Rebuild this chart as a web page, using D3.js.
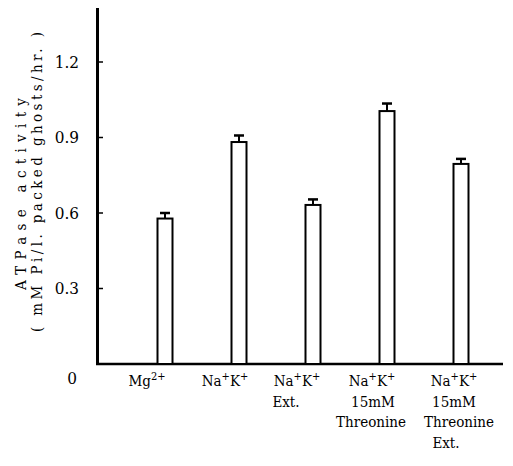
<!DOCTYPE html>
<html>
<head>
<meta charset="utf-8">
<script src="https://cdn.jsdelivr.net/npm/d3@7"></script>
<style>
  body { margin: 0; background: #fff; }
  svg { font-stretch: condensed; }
</style>
</head>
<body>
<svg width="513" height="466" font-family="'DejaVu Serif', serif"></svg>
<script>
"use strict";

// data
var categories = ["Mg", "NaK", "NaK Ext", "NaK Thr", "NaK Thr Ext"];
var values = [0.578, 0.882, 0.632, 1.005, 0.795];
var errors = [0.022, 0.026, 0.022, 0.030, 0.020];
var yTicks = [0.3, 0.6, 0.9, 1.2];
var tickLabels = ["0.3", "0.6", "0.9", "1.2"];

// x labels, one list of lines per category; each line is [text, sup] pairs
var labelLines = [
    [[["Mg", "2+"]]],
    [[["Na", "+"], ["K", "+"]]],
    [[["Na", "+"], ["K", "+"]], [["Ext.", ""]]],
    [[["Na", "+"], ["K", "+"]], [["15mM", ""]], [["Threonine", ""]]],
    [[["Na", "+"], ["K", "+"]], [["15mM", ""]], [["Threonine", ""]], [["Ext.", ""]]]
];
// horizontal placement of each label line relative to bar centre (layout only)
var labelShift = [
    [-18],
    [-14],
    [-16, -27],
    [-15, -14, -16],
    [-7, -7, -2, -15]
];

var svg = d3.select("svg");

var x = d3.scalePoint()
    .domain(categories)
    .range([165, 461]);

var y = d3.scaleLinear()
    .domain([0, 1.2])
    .range([364, 62]);

var barW = 15;

// axes
svg.append("line")
    .attr("x1", 97.5).attr("x2", 97.5)
    .attr("y1", 8).attr("y2", y(0) + 1)
    .attr("stroke", "#000").attr("stroke-width", 3);

svg.append("line")
    .attr("x1", 96).attr("x2", 503)
    .attr("y1", y(0)).attr("y2", y(0))
    .attr("stroke", "#000").attr("stroke-width", 2.5);

svg.selectAll("line.tick")
    .data(yTicks)
    .enter()
    .append("line")
    .classed("tick", true)
    .attr("x1", 98).attr("x2", 103)
    .attr("y1", function (d) { return y(d); })
    .attr("y2", function (d) { return y(d); })
    .attr("stroke", "#000").attr("stroke-width", 1.5);

svg.selectAll("text.ticklabel")
    .data(yTicks)
    .enter()
    .append("text")
    .classed("ticklabel", true)
    .attr("x", 79)
    .attr("y", function (d) { return y(d); })
    .attr("dy", "0.35em")
    .attr("text-anchor", "end")
    .style("font-size", "17px")
    .text(function (d, i) { return tickLabels[i]; });

svg.append("text")
    .attr("x", 72).attr("y", 384)
    .attr("text-anchor", "middle")
    .style("font-size", "17px")
    .text("0");

// y title
svg.append("text")
    .attr("transform", "translate(26,194) rotate(-90)")
    .attr("text-anchor", "middle")
    .style("font-size", "15px")
    .attr("textLength", 192)
    .attr("lengthAdjust", "spacing")
    .text("ATPase activity");
svg.append("text")
    .attr("transform", "translate(42,182) rotate(-90)")
    .attr("text-anchor", "middle")
    .style("font-size", "15px")
    .attr("textLength", 300)
    .attr("lengthAdjust", "spacing")
    .text("( mM Pi/l. packed ghosts/hr. )");

// bars
svg.selectAll("rect.bar")
    .data(values)
    .enter()
    .append("rect")
    .classed("bar", true)
    .attr("x", function (d, i) { return x(categories[i]) - barW / 2; })
    .attr("y", function (d) { return y(d); })
    .attr("width", barW)
    .attr("height", function (d) { return y(0) - y(d); })
    .attr("fill", "#fff")
    .attr("stroke", "#000")
    .attr("stroke-width", 2);

// error bars
svg.selectAll("line.err")
    .data(values)
    .enter()
    .append("line")
    .classed("err", true)
    .attr("x1", function (d, i) { return x(categories[i]); })
    .attr("x2", function (d, i) { return x(categories[i]); })
    .attr("y1", function (d) { return y(d); })
    .attr("y2", function (d, i) { return y(d + errors[i]); })
    .attr("stroke", "#000").attr("stroke-width", 2);

svg.selectAll("line.cap")
    .data(values)
    .enter()
    .append("line")
    .classed("cap", true)
    .attr("x1", function (d, i) { return x(categories[i]) - 5; })
    .attr("x2", function (d, i) { return x(categories[i]) + 5; })
    .attr("y1", function (d, i) { return y(d + errors[i]); })
    .attr("y2", function (d, i) { return y(d + errors[i]); })
    .attr("stroke", "#000").attr("stroke-width", 2.5);

// x labels
labelLines.forEach(function (lines, i) {
    lines.forEach(function (parts, j) {
        var t = svg.append("text")
            .attr("x", x(categories[i]) + labelShift[i][j])
            .attr("y", 386 + j * 20.5)
            .attr("text-anchor", "middle")
            .style("font-size", "15px");
        var shift = 0;
        parts.forEach(function (p) {
            t.append("tspan").attr("dy", -shift).text(p[0]);
            shift = 0;
            if (p[1]) {
                t.append("tspan")
                    .attr("dy", -6)
                    .style("font-size", "11px")
                    .text(p[1]);
                shift = -6;
            }
        });
    });
});
</script>
</body>
</html>
